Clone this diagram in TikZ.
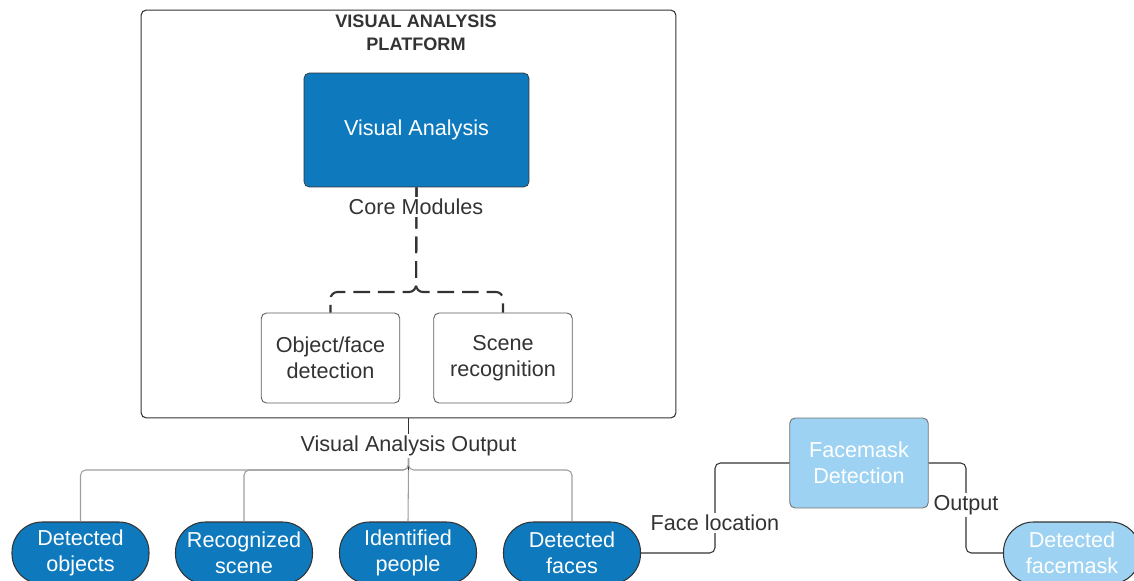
\documentclass[tikz,border=0pt]{standalone}
\usepackage{fontspec}
\setmainfont{Liberation Sans}
\usetikzlibrary{positioning}
\definecolor{vablue}{RGB}{14,122,189}
\definecolor{vasky}{RGB}{157,210,242}
\definecolor{vaink}{RGB}{51,51,51}
\definecolor{vagray}{RGB}{158,158,158}

\begin{document}
\begin{tikzpicture}[
  x=0.02cm, y=-0.02cm,
  frame/.style={rectangle, draw=vaink, rounded corners=3pt, line width=0.6pt, minimum width=10.7cm, minimum height=8.16cm},
  module/.style={rectangle, draw=vaink!80, rounded corners=3pt, minimum width=2.77cm, minimum height=1.8cm, align=center, text=vaink, font=\fontsize{12.3}{14.7}\selectfont, line width=0.5pt},
  result/.style={rectangle, draw=vaink, rounded corners=0.6cm, minimum width=2.74cm, minimum height=1.24cm, align=center, text=white, fill=vablue, font=\fontsize{12.3}{14.7}\selectfont, line width=0.6pt},
  conlabel/.style={fill=white, text=vaink, inner sep=1pt, font=\fontsize{12.3}{14}\selectfont},
  link/.style={draw=vaink, line width=0.6pt, rounded corners=3pt},
  branch/.style={draw=vagray, line width=0.6pt, rounded corners=3pt},
  core/.style={draw=vaink, line width=1.2pt, dash pattern=on 9.5pt off 4.5pt, rounded corners=4pt}
]
\useasboundingbox (0,0) rectangle (1134,581);

% Platform frame
\node[frame] (platform) at (408.5,214) {};
\node[font=\fontsize{10.3}{13}\selectfont\bfseries, text=vaink, align=center] (title) at (416,33) {VISUAL ANALYSIS\\PLATFORM};

% Core box and modules
\node[rectangle, draw=vaink, rounded corners=3pt, fill=vablue, text=white, minimum width=4.5cm, minimum height=2.28cm, font=\fontsize{12.3}{14.7}\selectfont] (va) at (416.5,130) {Visual Analysis};
\node[module] (odet) at (330.5,358) {Object/face\\detection};
\node[module] (scene) at (503,358) {Scene\\recognition};

% Outputs
\node[result] (objs) at (80.5,553) {Detected\\objects};
\node[result] (recog) at (244,553) {Recognized\\scene};
\node[result] (people) at (408,553) {Identified\\people};
\node[result] (faces) at (572,553) {Detected\\faces};

% Facemask branch
\node[module, draw=vaink!70, fill=vasky, text=white] (fm) at (859,463) {Facemask\\Detection};
\node[result, fill=vasky] (dfm) at (1072,553) {Detected\\facemask};

% Split points
\coordinate (csplit) at (416,292);
\coordinate (osplit) at (408.5,470);
\coordinate (ostem) at (408.5,456);
\coordinate (fturn) at (715,523);
\coordinate (oturn) at (966,505);

% Core modules links
\draw[core] (va.south) -- (csplit) -| (odet.north);
\draw[core] (va.south) -- (csplit) -| (scene.north);
\node[conlabel] (corelbl) at (416,207) {Core Modules};

% Output links
\draw[link] (platform.south) -- (osplit);
\draw[branch] (ostem) -- (osplit) -| (objs.north);
\draw[branch] (ostem) -- (osplit) -| (recog.north);
\draw[branch] (ostem) -- (osplit) -| (faces.north);
\draw[branch] (osplit) -- (people.north);
\node[conlabel] (outlbl) at (408.5,446) {Visual Analysis Output};

% Facemask links
\draw[link] (faces.east) -| (fturn) |- (fm.west);
\draw[link] (fm.east) -| (oturn) |- (dfm.west);
\node[conlabel] (flbl) at (fturn) {Face location};
\node[conlabel] (olbl) at (oturn) {Output};

\end{tikzpicture}
\end{document}
